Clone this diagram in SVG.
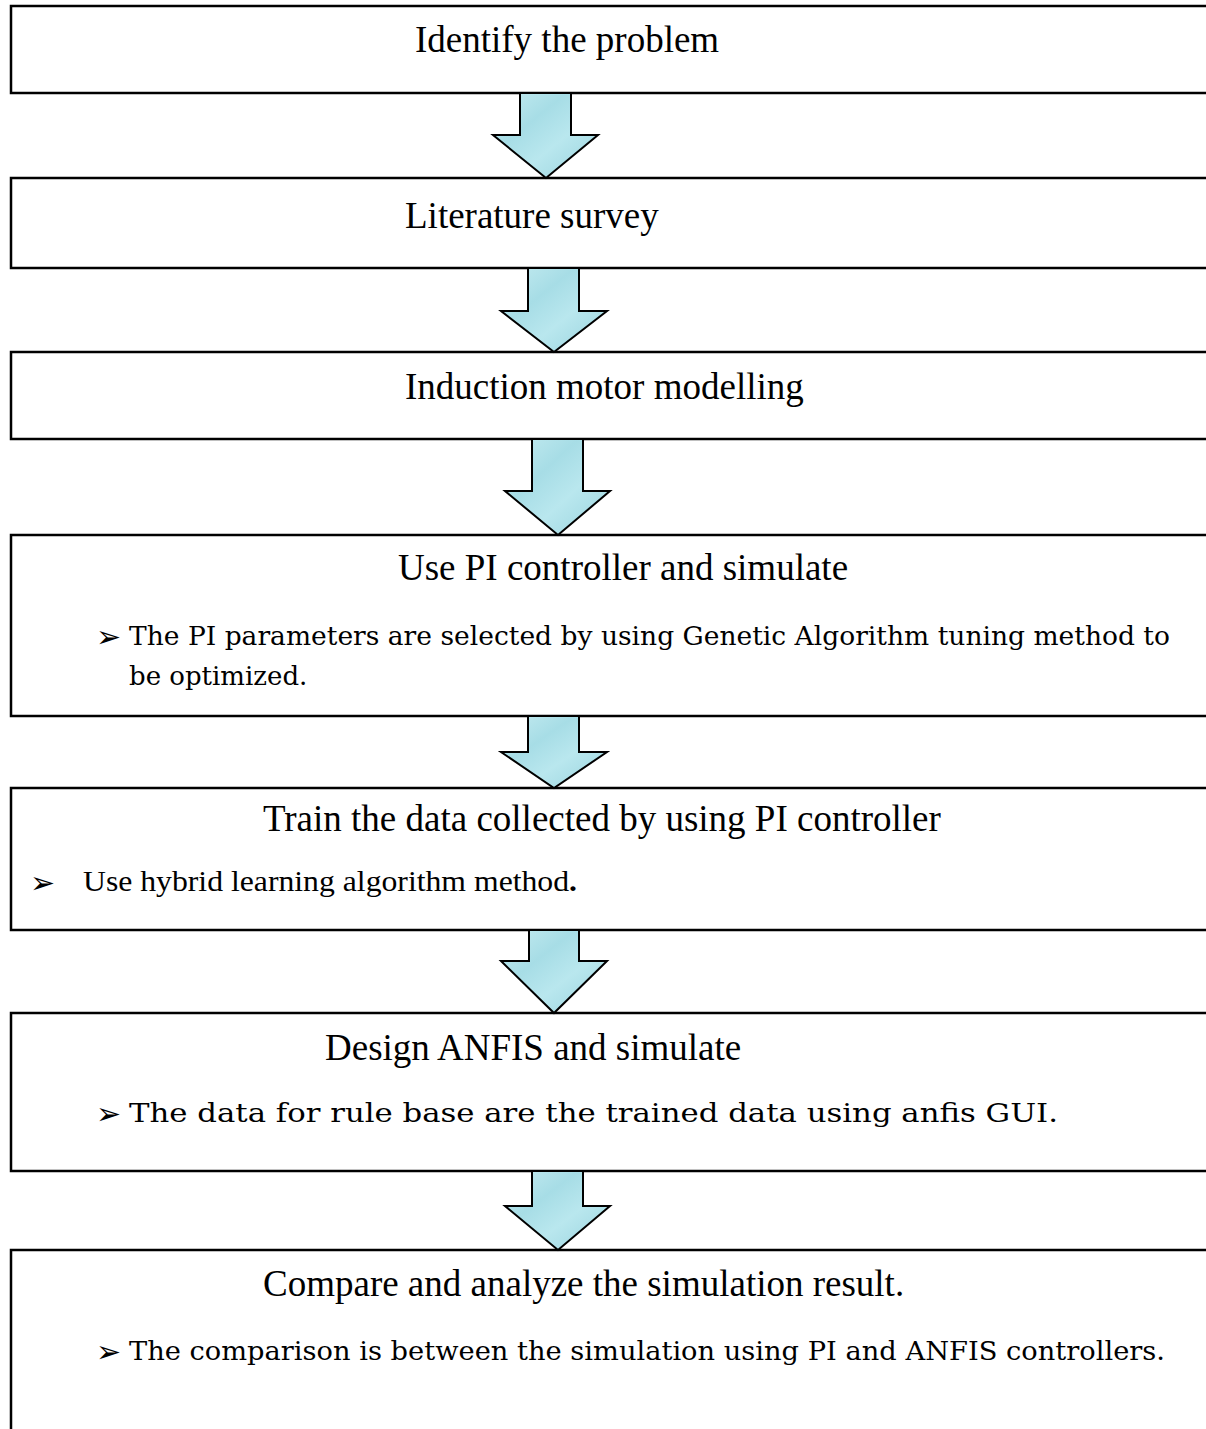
<svg xmlns="http://www.w3.org/2000/svg" width="1206" height="1429" viewBox="0 0 1206 1429">
<style>
.box{fill:#fff;stroke:#000;stroke-width:2.5}
.arr{fill:url(#water);stroke:#000;stroke-width:2;stroke-linejoin:miter}
.title{font-family:"Liberation Serif","Times New Roman",serif;font-size:37px;fill:#000}
.bul{font-family:"DejaVu Serif","Liberation Serif",serif;font-size:26px;fill:#000}
.bult{font-family:"Liberation Serif","Times New Roman",serif;font-size:30px;fill:#000}
.mark{font-family:"DejaVu Sans",sans-serif;font-size:30px;fill:#000}
</style>
<defs>
<linearGradient id="water" x1="0" y1="0" x2="1" y2="1">
<stop offset="0" stop-color="#c6ecf1"/>
<stop offset="0.35" stop-color="#a7dde6"/>
<stop offset="0.6" stop-color="#b9e7ee"/>
<stop offset="1" stop-color="#98d3de"/>
</linearGradient>
</defs>
<rect width="1206" height="1429" fill="#fff"/>
<g id="node1">
<rect class="box" x="11" y="6" width="1220" height="87"/>
<text class="title" x="415" y="52">Identify the problem</text>
</g>
<g id="node2">
<rect class="box" x="11" y="178" width="1220" height="90"/>
<text class="title" x="405" y="228">Literature survey</text>
</g>
<g id="node3">
<rect class="box" x="11" y="352" width="1220" height="87"/>
<text class="title" x="405" y="399">Induction motor modelling</text>
</g>
<g id="node4">
<rect class="box" x="11" y="535" width="1220" height="181"/>
<text class="title" x="398" y="580">Use PI controller and simulate</text>
<text class="mark" x="96" y="647">➢</text>
<text class="bul" x="129" y="645" textLength="1041" lengthAdjust="spacingAndGlyphs">The PI parameters are selected by using Genetic Algorithm tuning method to</text>
<text class="bul" x="129" y="685">be optimized.</text>
</g>
<g id="node5">
<rect class="box" x="11" y="788" width="1220" height="142"/>
<text class="title" x="263" y="831">Train the data collected by using PI controller</text>
<text class="mark" x="30" y="893">➢</text>
<text class="bult" x="83" y="891" textLength="494" lengthAdjust="spacingAndGlyphs">Use hybrid learning algorithm method<tspan font-weight="bold">.</tspan></text>
</g>
<g id="node6">
<rect class="box" x="11" y="1013" width="1220" height="158"/>
<text class="title" x="325" y="1060">Design ANFIS and simulate</text>
<text class="mark" x="96" y="1124">➢</text>
<text class="bul" x="129" y="1122" textLength="929" lengthAdjust="spacingAndGlyphs">The data for rule base are the trained data using anfis GUI.</text>
</g>
<g id="node7">
<rect class="box" x="11" y="1250" width="1220" height="200"/>
<text class="title" x="263" y="1296">Compare and analyze the simulation result.</text>
<text class="mark" x="96" y="1362">➢</text>
<text class="bul" x="129" y="1360" textLength="1036" lengthAdjust="spacingAndGlyphs">The comparison is between the simulation using PI and ANFIS controllers.</text>
</g>
<g id="connectors">
<polygon class="arr" points="520,93 571,93 571,135 598,135 546,178 493,135 520,135"/>
<polygon class="arr" points="528,268 579,268 579,311 607,311 554,352 501,311 528,311"/>
<polygon class="arr" points="532,439 583,439 583,491 610,491 558,535 505,491 532,491"/>
<polygon class="arr" points="528,716 579,716 579,752 607,752 554,788 501,752 528,752"/>
<polygon class="arr" points="529,930 579,930 579,961 607,961 554,1013 501,961 529,961"/>
<polygon class="arr" points="532,1171 583,1171 583,1206 610,1206 558,1250 505,1206 532,1206"/>
</g>
</svg>
